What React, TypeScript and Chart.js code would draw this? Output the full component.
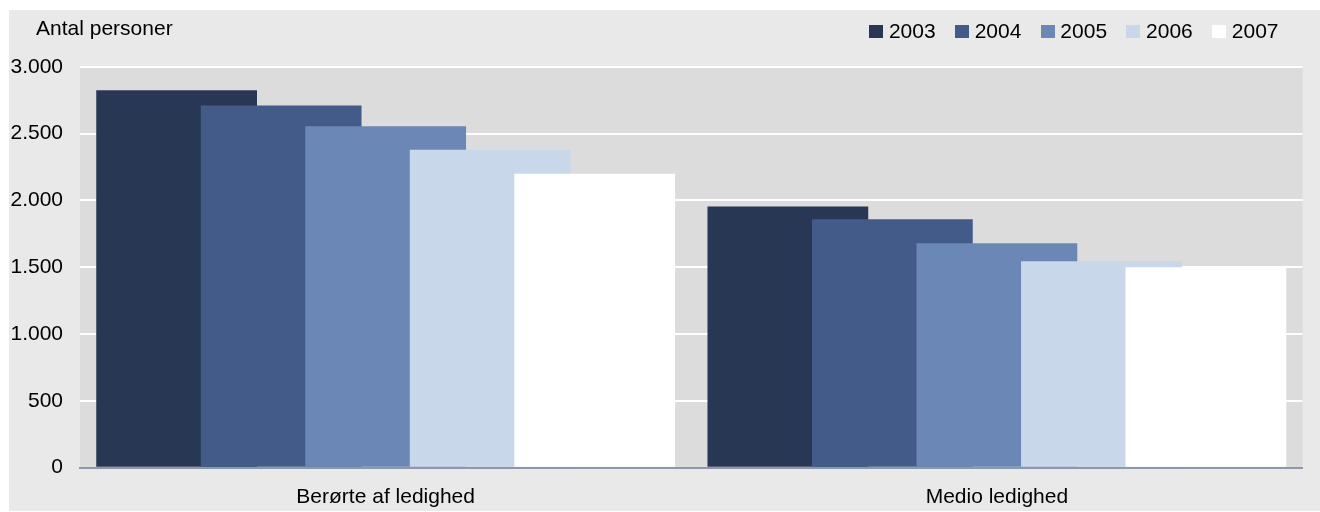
import React, { useEffect, useRef } from "react";
import { Chart, registerables } from "chart.js";

Chart.register(...registerables);

const categories = ["Berørte af ledighed", "Medio ledighed"];
const years = ["2003", "2004", "2005", "2006", "2007"];
const values2003 = [2825, 1955];
const values2004 = [2710, 1860];
const values2005 = [2555, 1680];
const values2006 = [2380, 1545];
const values2007 = [2200, 1500];
const seriesValues = [values2003, values2004, values2005, values2006, values2007];
const seriesColors = ["#283753", "#425b88", "#6b87b5", "#c8d7ea", "#ffffff"];
const yAxisTitle = "Antal personer";

const FONT = "'Liberation Sans', Arial, Helvetica, sans-serif";
const BAR_STEP = 0.171; // offset between overlapping bars inside one category (category units)
const TICK_PAD = 17;

const formatThousands = (v: number) =>
  String(v).replace(/\B(?=(\d{3})+(?!\d))/g, ".");

const makeSwatch = (color: string) => {
  const c = document.createElement("canvas");
  c.width = 14;
  c.height = 13;
  const g = c.getContext("2d")!;
  g.fillStyle = color;
  g.fillRect(0, 0, 14, 13);
  return c;
};

export default function App() {
  const ref = useRef<HTMLCanvasElement | null>(null);

  useEffect(() => {
    if (!ref.current) return;
    const swatches = seriesColors.map(makeSwatch);

    const datasets = years.map((year, i) => ({
      label: year,
      data: seriesValues[i].map((v, g) => ({ x: g + (i - (years.length - 1) / 2) * BAR_STEP, y: v })),
      backgroundColor: seriesColors[i],
      borderWidth: 0,
      grouped: false,
      categoryPercentage: 1,
      barPercentage: 1.538,
      order: years.length - 1 - i,
    }));

    const plotBg = {
      id: "plotBg",
      beforeDraw(chart: any) {
        const { ctx, chartArea } = chart;
        ctx.save();
        ctx.fillStyle = "#dcdcdc";
        ctx.fillRect(chartArea.left, chartArea.top, chartArea.right - chartArea.left, chartArea.bottom - chartArea.top);
        ctx.restore();
      },
    };

    const legendSpacing = {
      id: "legendSpacing",
      beforeInit(chart: any) {
        const legend = chart.legend;
        if (!legend) return;
        const origFit = legend.fit;
        legend.fit = function () {
          origFit.call(this);
          this.height += 14.5;
        };
      },
    };

    const axisTitle = {
      id: "axisTitle",
      afterDraw(chart: any) {
        const { ctx, chartArea } = chart;
        ctx.save();
        ctx.font = `21px ${FONT}`;
        ctx.fillStyle = "#000";
        ctx.textAlign = "left";
        ctx.textBaseline = "alphabetic";
        ctx.fillText(yAxisTitle, chartArea.left - 44, chartArea.top - 32);
        ctx.restore();
      },
    };

    const chart = new Chart(ref.current, {
      type: "bar",
      data: { datasets: datasets as any },
      options: {
        animation: false,
        responsive: false,
        layout: { padding: { top: -12.7, right: 17.5, bottom: 1.1, left: 1.5 } },
        plugins: {
          tooltip: { enabled: false },
          title: { display: false },
          legend: {
            position: "top",
            align: "end",
            labels: {
              usePointStyle: true,
              boxWidth: 4.5,
              boxHeight: 13,
              padding: 24,
              color: "#000",
              font: { family: FONT, size: 21 },
              generateLabels: (c: any) => {
                const items = Chart.defaults.plugins.legend.labels.generateLabels(c);
                items.sort((a: any, b: any) => a.datasetIndex - b.datasetIndex);
                return items.map((it: any) => ({ ...it, pointStyle: swatches[it.datasetIndex] }));
              },
            },
          },
        },
        scales: {
          x: {
            type: "linear",
            offset: false,
            min: -0.5,
            max: categories.length - 0.5,
            z: 1,
            afterBuildTicks: (scale: any) => {
              scale.ticks = categories.map((_, i) => ({ value: i }));
            },
            afterFit: (scale: any) => {
              scale.height -= TICK_PAD;
            },
            grid: { display: false, drawTicks: false, offset: false },
            border: { display: true, color: "#8e98ab", width: 2 },
            ticks: {
              autoSkip: false,
              maxRotation: 0,
              padding: TICK_PAD,
              color: "#000",
              font: { family: FONT, size: 21 },
              callback: (v: any) => categories[v as number] ?? "",
            },
          },
          y: {
            type: "linear",
            min: 0,
            max: 3000,
            afterFit: (scale: any) => {
              scale.width -= TICK_PAD;
            },
            grid: {
              color: (ctx: any) => (ctx.tick && ctx.tick.value === 0 ? "rgba(0,0,0,0)" : "#ffffff"),
              lineWidth: 2,
              drawTicks: false,
            },
            border: { display: false },
            ticks: {
              stepSize: 500,
              padding: TICK_PAD,
              color: "#000",
              font: { family: FONT, size: 21 },
              callback: (v: any) => formatThousands(Number(v)),
            },
          },
        },
      } as any,
      plugins: [plotBg, legendSpacing, axisTitle],
    });

    return () => chart.destroy();
  }, []);

  return (
    <div
      style={{
        position: "fixed",
        left: 9,
        top: 10,
        width: 1311,
        height: 501,
        background: "#e9e9e9",
      }}
    >
      <canvas ref={ref} width={1311} height={501} style={{ display: "block", width: 1311, height: 501 }} />
    </div>
  );
}
